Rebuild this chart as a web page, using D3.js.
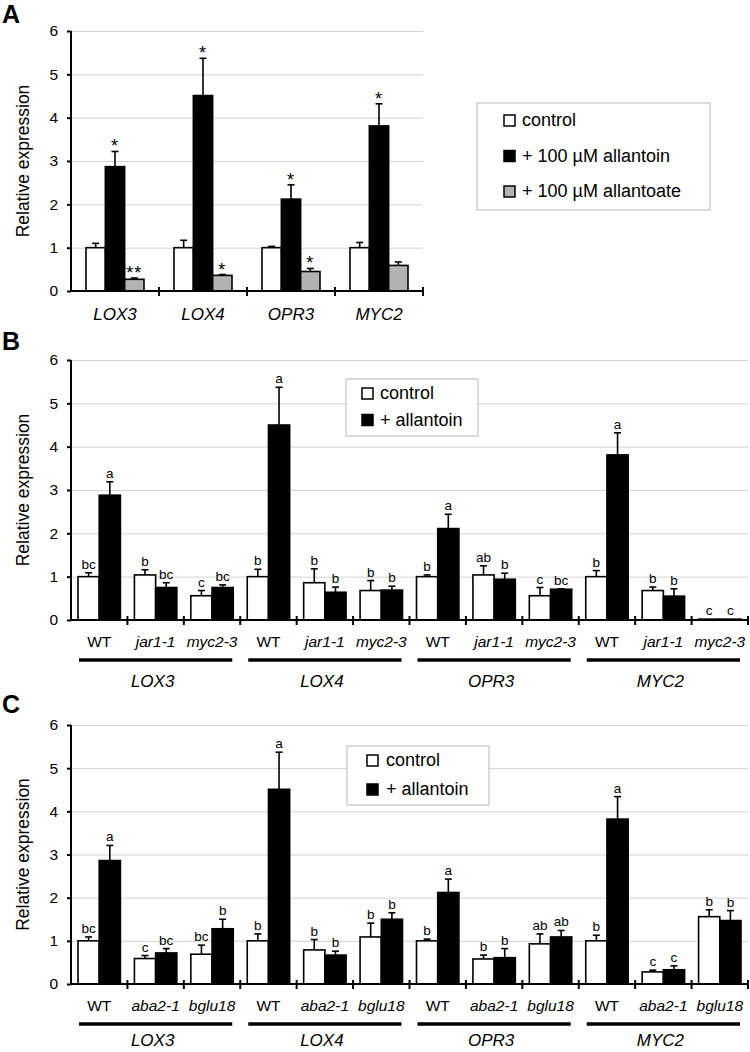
<!DOCTYPE html>
<html><head><meta charset="utf-8">
<script src="https://cdn.jsdelivr.net/npm/d3@7"></script>
<style>
body{margin:0;background:#fff}
svg{display:block}
text{font-family:"Liberation Sans",Arial,Helvetica,sans-serif;fill:#000}
</style>
</head><body>
<svg id="chart" width="750" height="1052"></svg>
<script>
// ---------- DATA ----------
const yTicks = [0, 1, 2, 3, 4, 5, 6];
const genes = ["LOX3", "LOX4", "OPR3", "MYC2"];

// Panel A
const seriesNamesA = ["control", "+ 100 µM allantoin", "+ 100 µM allantoate"];
const ctrlA = [1.00, 1.00, 1.00, 1.00];
const ctrlErrA = [0.10, 0.17, 0.03, 0.12];
const allantoinA = [2.87, 4.51, 2.12, 3.81];
const allantoinErrA = [0.35, 0.86, 0.33, 0.51];
const allantoateA = [0.27, 0.36, 0.45, 0.59];
const allantoateErrA = [0.03, 0.02, 0.07, 0.08];
const sigAllantoinA = ["*", "*", "*", "*"];
const sigAllantoateA = ["**", "*", "*", ""];

// Panel B
const seriesNamesBC = ["control", "+ allantoin"];
const genotypesB = ["WT", "jar1-1", "myc2-3"];
const ctrlB = [1.00, 1.04, 0.56, 1.00, 0.86, 0.68, 1.00, 1.04, 0.56, 1.00, 0.68, 0.02];
const ctrlErrB = [0.09, 0.12, 0.12, 0.17, 0.32, 0.23, 0.04, 0.21, 0.19, 0.14, 0.08, 0];
const allB = [2.88, 0.75, 0.75, 4.50, 0.64, 0.69, 2.11, 0.94, 0.71, 3.81, 0.55, 0.02];
const allErrB = [0.31, 0.11, 0.06, 0.87, 0.12, 0.09, 0.33, 0.14, 0.01, 0.51, 0.17, 0];
const lettersCtrlB = ["bc", "b", "c", "b", "b", "b", "b", "ab", "c", "b", "b", "c"];
const lettersAllB = ["a", "bc", "bc", "a", "b", "b", "a", "b", "bc", "a", "b", "c"];

// Panel C
const genotypesC = ["WT", "aba2-1", "bglu18"];
const ctrlC = [1.00, 0.59, 0.69, 1.00, 0.79, 1.09, 1.00, 0.58, 0.93, 1.00, 0.28, 1.56];
const ctrlErrC = [0.09, 0.07, 0.21, 0.16, 0.24, 0.32, 0.04, 0.09, 0.23, 0.13, 0.04, 0.16];
const allC = [2.86, 0.72, 1.28, 4.51, 0.67, 1.50, 2.12, 0.61, 1.09, 3.82, 0.33, 1.47];
const allErrC = [0.35, 0.10, 0.22, 0.86, 0.09, 0.15, 0.31, 0.21, 0.15, 0.52, 0.09, 0.23];
const lettersCtrlC = ["bc", "c", "bc", "b", "b", "b", "b", "b", "ab", "b", "c", "b"];
const lettersAllC = ["a", "bc", "b", "a", "b", "b", "a", "b", "ab", "a", "c", "b"];

// ---------- DRAWING ----------
const svg = d3.select("#chart");
const FILL_CTRL = "#ffffff", FILL_ALL = "#000000", FILL_ATE = "#b3b3b3";

function panel(cfg) {
  const g = svg.append("g");
  const n = cfg.n;
  const y = d3.scaleLinear().domain([0, 6]).range([cfg.zeroY, cfg.topY]);
  const x = d3.scaleBand().domain(d3.range(n)).range([cfg.left, cfg.right]);
  const inner = d3.scaleBand().domain(d3.range(cfg.series.length))
    .range([cfg.pad, x.bandwidth() - cfg.pad]);

  // gridlines
  const grid = g.append("g").attr("transform", `translate(${cfg.left},0)`)
    .call(d3.axisLeft(y).tickValues(yTicks.slice(1)).tickSize(-(cfg.right - cfg.left)).tickFormat(""));
  grid.select(".domain").remove();
  grid.selectAll("line").attr("stroke", "#d3d3d3").attr("stroke-width", 1);

  // bars
  cfg.series.forEach((s, si) => {
    const items = d3.range(n).map(i => ({i, v: s.values[i], e: s.errs[i], lab: s.labels ? s.labels[i] : ""}));
    const cx = d => x(d.i) + inner(si) + inner.bandwidth() / 2;
    g.append("g").selectAll("rect").data(items).join("rect")
      .attr("x", d => x(d.i) + inner(si))
      .attr("y", d => y(d.v))
      .attr("width", inner.bandwidth())
      .attr("height", d => y(0) - y(d.v))
      .attr("fill", s.fill).attr("stroke", "#000").attr("stroke-width", 1.6);
    const eb = g.append("g").attr("stroke", "#000").attr("stroke-width", 1.6);
    items.filter(d => d.e > 0).forEach(d => {
      eb.append("line").attr("x1", cx(d)).attr("x2", cx(d)).attr("y1", y(d.v)).attr("y2", y(d.v + d.e));
      eb.append("line").attr("x1", cx(d) - 3.5).attr("x2", cx(d) + 3.5).attr("y1", y(d.v + d.e)).attr("y2", y(d.v + d.e));
    });
    g.append("g").selectAll("text").data(items.filter(d => d.lab)).join("text")
      .attr("x", cx)
      .attr("y", d => y(d.v + d.e) + (cfg.star ? 1 : -4))
      .attr("text-anchor", "middle")
      .attr("font-size", cfg.star ? 18 : 13.5)
      .attr("letter-spacing", cfg.star ? 1 : 0)
      .text(d => d.lab);
  });

  // y axis
  const ya = g.append("g").attr("transform", `translate(${cfg.left},0)`)
    .call(d3.axisLeft(y).tickValues(yTicks).tickSize(4).tickPadding(9).tickFormat(d3.format("d")));
  ya.select(".domain").remove();
  ya.selectAll("line").attr("stroke", "#000").attr("stroke-width", 2);
  ya.selectAll("text").attr("font-size", 15.5).attr("font-family", '"Liberation Sans",Arial,sans-serif').attr("fill", "#000");
  g.append("line").attr("x1", cfg.left).attr("x2", cfg.left).attr("y1", y(0) + 1).attr("y2", y(6))
    .attr("stroke", "#000").attr("stroke-width", 2);

  // x axis
  g.append("line").attr("x1", cfg.left).attr("x2", cfg.right + 1).attr("y1", y(0)).attr("y2", y(0))
    .attr("stroke", "#000").attr("stroke-width", 2);
  const bounds = d3.range(1, n).map(i => x(i)).concat([cfg.right]);
  g.append("g").selectAll("line").data(bounds).join("line")
    .attr("x1", d => d).attr("x2", d => d).attr("y1", y(0) - 4).attr("y2", y(0) + 5)
    .attr("stroke", "#000").attr("stroke-width", 2);

  // y title
  g.append("text").attr("transform", `translate(29,${(cfg.zeroY + cfg.topY) / 2}) rotate(-90)`)
    .attr("text-anchor", "middle").attr("font-size", 17.5).text("Relative expression");

  // panel letter
  g.append("text").attr("x", 2).attr("y", cfg.letterY).attr("font-size", 25).attr("font-weight", "bold").text(cfg.letter);

  // legend
  const L = cfg.legend;
  g.append("rect").attr("x", L.x).attr("y", L.y).attr("width", L.w).attr("height", L.h)
    .attr("fill", "#fff").attr("stroke", "#c4c4c4").attr("stroke-width", 1.2);
  cfg.series.forEach((s, si) => {
    const by = L.firstBase + si * L.step;
    g.append("rect").attr("x", L.sqX).attr("y", by - 11).attr("width", 11).attr("height", 11)
      .attr("fill", s.fill).attr("stroke", "#000").attr("stroke-width", 1.5);
    g.append("text").attr("x", L.textX).attr("y", by).attr("font-size", 18).text(s.name);
  });

  return {x, y};
}

// Panel A
const pA = panel({
  n: 4, left: 71, right: 423, zeroY: 291, topY: 31, pad: 15, star: true,
  letter: "A", letterY: 23,
  series: [
    {name: seriesNamesA[0], fill: FILL_CTRL, values: ctrlA, errs: ctrlErrA},
    {name: seriesNamesA[1], fill: FILL_ALL, values: allantoinA, errs: allantoinErrA, labels: sigAllantoinA},
    {name: seriesNamesA[2], fill: FILL_ATE, values: allantoateA, errs: allantoateErrA, labels: sigAllantoateA}
  ],
  legend: {x: 477, y: 103, w: 233, h: 107, sqX: 504, textX: 522, firstBase: 126, step: 35.5}
});
svg.append("g").selectAll("text").data(genes).join("text")
  .attr("x", (d, i) => pA.x(i) + pA.x.bandwidth() / 2).attr("y", 320)
  .attr("text-anchor", "middle").attr("font-size", 17).attr("font-style", "italic").text(d => d);

function genotypeLabels(p, genotypes, zeroY, geneY) {
  const g = svg.append("g");
  const bw = p.x.bandwidth();
  d3.range(12).forEach(i => {
    const gt = genotypes[i % 3];
    g.append("text").attr("x", p.x(i) + bw / 2).attr("y", zeroY + 27)
      .attr("text-anchor", "middle").attr("font-size", 15.5)
      .attr("font-style", gt === "WT" ? "normal" : "italic").text(gt);
  });
  genes.forEach((gene, gi) => {
    const xa = p.x(gi * 3) + 8, xb = p.x(gi * 3 + 2) + bw - 8;
    g.append("line").attr("x1", xa).attr("x2", xb).attr("y1", zeroY + 40).attr("y2", zeroY + 40)
      .attr("stroke", "#000").attr("stroke-width", 3.5);
    g.append("text").attr("x", (xa + xb) / 2 - 3).attr("y", geneY)
      .attr("text-anchor", "middle").attr("font-size", 17).attr("font-style", "italic").text(gene);
  });
}

// Panel B
const pB = panel({
  n: 12, left: 71, right: 748, zeroY: 620, topY: 360, pad: 7, star: false,
  letter: "B", letterY: 350,
  series: [
    {name: seriesNamesBC[0], fill: FILL_CTRL, values: ctrlB, errs: ctrlErrB, labels: lettersCtrlB},
    {name: seriesNamesBC[1], fill: FILL_ALL, values: allB, errs: allErrB, labels: lettersAllB}
  ],
  legend: {x: 346, y: 379, w: 132, h: 57, sqX: 362, textX: 380, firstBase: 399, step: 26.5}
});
genotypeLabels(pB, genotypesB, 620, 687);

// Panel C
const pC = panel({
  n: 12, left: 71, right: 748, zeroY: 984, topY: 725, pad: 7, star: false,
  letter: "C", letterY: 713,
  series: [
    {name: seriesNamesBC[0], fill: FILL_CTRL, values: ctrlC, errs: ctrlErrC, labels: lettersCtrlC},
    {name: seriesNamesBC[1], fill: FILL_ALL, values: allC, errs: allErrC, labels: lettersAllC}
  ],
  legend: {x: 347, y: 746, w: 142, h: 59, sqX: 367, textX: 386, firstBase: 766, step: 29}
});
genotypeLabels(pC, genotypesC, 984, 1046);
</script>
</body></html>
